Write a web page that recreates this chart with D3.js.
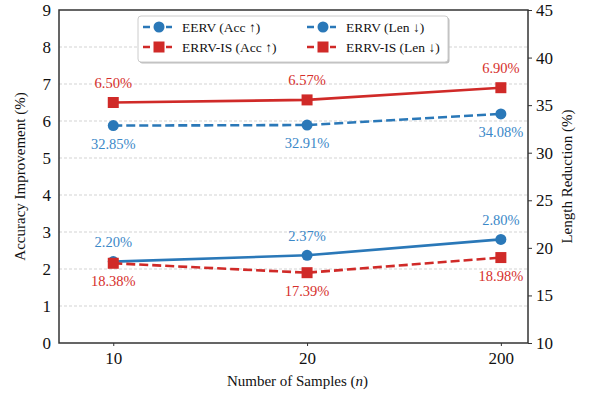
<!DOCTYPE html>
<html>
<head>
<meta charset="utf-8">
<script src="https://cdn.jsdelivr.net/npm/d3@7"></script>
<style>
  body { margin: 0; background: #fff; }
  text { font-family: "Liberation Serif", "DejaVu Serif", serif; }
</style>
</head>
<body>
<div id="chart"></div>
<script>
// data
var samples = ["10", "20", "200"]
var eervAcc = [2.20, 2.37, 2.80]        // left axis, solid blue
var errvIsAcc = [6.50, 6.57, 6.90]      // left axis, solid red
var errvLen = [32.85, 32.91, 34.08]     // right axis, dashed blue
var errvIsLen = [18.38, 17.39, 18.98]   // right axis, dashed red
var leftTicks = [0, 1, 2, 3, 4, 5, 6, 7, 8, 9]
var rightTicks = [10, 15, 20, 25, 30, 35, 40, 45]

var W = 589, H = 396
var margin = {top: 10, right: 61, bottom: 53, left: 59},
    width = W - margin.left - margin.right,
    height = H - margin.top - margin.bottom;

var blue = "#2a78b8", red = "#d02a28"
var blueText = "#3b88c8", redText = "#d62f2c"
var axisColor = "#333333"

var x = d3.scaleLinear().domain([-0.28, 2.14]).range([0, width])
var yL = d3.scaleLinear().domain([0, 9]).range([height, 0])
var yR = d3.scaleLinear().domain([10, 45]).range([height, 0])

var svg = d3.select("#chart").append("svg")
    .attr("width", W)
    .attr("height", H)
  .append("g")
    .attr("transform", "translate(" + margin.left + "," + margin.top + ")");

// grid (left axis only)
svg.append("g")
    .selectAll("line")
    .data(leftTicks.slice(1, -1))
    .enter().append("line")
    .attr("x1", 0).attr("x2", width)
    .attr("y1", d => yL(d)).attr("y2", d => yL(d))
    .attr("stroke", "#c8c8c8")
    .attr("stroke-width", 0.8)
    .attr("stroke-dasharray", "3,2")

// axes
var xAxis = svg.append("g")
    .attr("transform", "translate(0," + height + ")")
    .call(d3.axisBottom(x).tickValues([0, 1, 2]).tickFormat((d, i) => samples[i]).tickSize(3).tickPadding(6))
var lAxis = svg.append("g")
    .call(d3.axisLeft(yL).tickValues(leftTicks).tickSize(0).tickPadding(8))
var rAxis = svg.append("g")
    .attr("transform", "translate(" + width + ",0)")
    .call(d3.axisRight(yR).tickValues(rightTicks).tickSize(4).tickPadding(4))

;[xAxis, lAxis, rAxis].forEach(function(a) {
  a.attr("font-family", null)
  a.select(".domain").remove()
  a.selectAll("line").attr("stroke", axisColor).attr("stroke-width", 1)
  a.selectAll("text").attr("fill", "#111").style("font-size", "17px")
      .style("font-family", "'Liberation Serif', serif")
})

// frame
svg.append("rect")
    .attr("width", width).attr("height", height)
    .attr("fill", "none")
    .attr("stroke", axisColor)
    .attr("stroke-width", 1.5)

// axis titles
svg.append("text")
    .attr("transform", "translate(" + (22 - margin.left) + "," + (height / 2) + ") rotate(-90)")
    .attr("text-anchor", "middle")
    .attr("dominant-baseline", "middle")
    .style("font-size", "15px")
    .attr("fill", "#111")
    .text("Accuracy Improvement (%)")

svg.append("text")
    .attr("transform", "translate(" + (width + 41) + "," + (height / 2) + ") rotate(-90)")
    .attr("text-anchor", "middle")
    .attr("dominant-baseline", "middle")
    .style("font-size", "15px")
    .attr("fill", "#111")
    .text("Length Reduction (%)")

var xt = svg.append("text")
    .attr("x", width / 2 + 4)
    .attr("y", height + 43)
    .attr("text-anchor", "middle")
    .style("font-size", "15px")
    .attr("fill", "#111")
xt.append("tspan").text("Number of Samples (")
xt.append("tspan").style("font-style", "italic").text("n")
xt.append("tspan").text(")")

// series, in drawing order (right-axis series sit on top)
var series = [
  {name: "EERV (Acc ↑)", vals: eervAcc, y: yL, color: blue, tcolor: blueText, dash: null, shape: "circle", dy: -14.5},
  {name: "ERRV-IS (Acc ↑)", vals: errvIsAcc, y: yL, color: red, tcolor: redText, dash: null, shape: "square", dy: -14.5},
  {name: "ERRV (Len ↓)", vals: errvLen, y: yR, color: blue, tcolor: blueText, dash: "9,4", shape: "circle", dy: 23},
  {name: "ERRV-IS (Len ↓)", vals: errvIsLen, y: yR, color: red, tcolor: redText, dash: "9,4", shape: "square", dy: 23}
]

function drawMarker(g, shape, color) {
  if (shape == "circle") {
    g.append("circle").attr("r", 5.5).attr("fill", color)
  } else {
    g.append("rect").attr("x", -5.5).attr("y", -5.5).attr("width", 11).attr("height", 11).attr("fill", color)
  }
}

series.forEach(function(s) {
  var line = d3.line()
      .x((d, i) => x(i))
      .y(d => s.y(d))
  svg.append("path")
      .datum(s.vals)
      .attr("fill", "none")
      .attr("stroke", s.color)
      .attr("stroke-width", 2.6)
      .attr("stroke-dasharray", s.dash)
      .attr("d", line)
  s.vals.forEach(function(v, i) {
    var g = svg.append("g").attr("transform", "translate(" + x(i) + "," + s.y(v) + ")")
    drawMarker(g, s.shape, s.color)
  })
})

series.forEach(function(s) {
  svg.selectAll(null)
      .data(s.vals)
      .enter().append("text")
      .attr("x", (d, i) => x(i))
      .attr("y", d => s.y(d) + s.dy)
      .attr("text-anchor", "middle")
      .style("font-size", "14.5px")
      .attr("fill", s.tcolor)
      .text(d => d.toFixed(2) + "%")
})

// legend
var lg = svg.append("g").attr("transform", "translate(" + (138 - margin.left) + "," + (16 - margin.top) + ")")
lg.append("rect")
    .attr("x", 1.5).attr("y", 1.5)
    .attr("width", 310).attr("height", 46).attr("rx", 3)
    .attr("fill", "#bbbbbb")
lg.append("rect")
    .attr("width", 310).attr("height", 46).attr("rx", 3)
    .attr("fill", "#fff")
    .attr("stroke", "#cccccc")
    .attr("stroke-width", 1)

var legendItems = [series[0], series[2], series[1], series[3]]
legendItems.forEach(function(s, i) {
  var col = i % 2, row = Math.floor(i / 2)
  var g = lg.append("g").attr("transform", "translate(" + (5 + col * 164) + "," + (11 + row * 20) + ")")
  g.append("line")
      .attr("x1", 0).attr("x2", 29)
      .attr("stroke", s.color)
      .attr("stroke-width", 2.6)
      .attr("stroke-dasharray", "7,4.5")
  var m = g.append("g").attr("transform", "translate(16,0)")
  drawMarker(m, s.shape, s.color)
  g.append("text")
      .attr("x", 39)
      .attr("y", 0)
      .attr("dominant-baseline", "central")
      .style("font-size", "13.5px")
      .attr("fill", "#111")
      .text(s.name)
})
</script>
</body>
</html>
